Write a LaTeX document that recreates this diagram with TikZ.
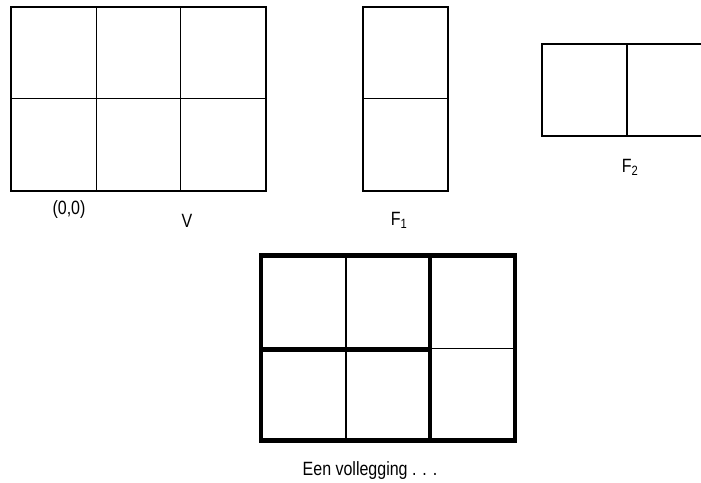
\documentclass[tikz,border=0pt]{standalone}
\usepackage{fontspec}
\setmainfont{Liberation Sans}
\tikzset{
  gridline/.style={line width=1.35pt, black},
  frame/.style={line width=2pt, black},
  heavy/.style={line width=4.4pt, black},
  lbl/.style={anchor=base, inner sep=0pt, font=\fontsize{16}{16}\selectfont},
}
\newcommand{\tall}[1]{\scalebox{1}[1.2]{#1}}
\begin{document}
\begin{tikzpicture}[x=1pt, y=-1pt]
  \useasboundingbox (0,0) rectangle (701,482);
  \clip (0,0) rectangle (701,482);

  % the 3x2 grid V
  \draw[gridline] (96.5,7) -- (96.5,190.5);
  \draw[gridline] (180.5,7) -- (180.5,190.5);
  \draw[gridline] (11,98.5) -- (265.5,98.5);
  \draw[frame] (11,7) rectangle (265.5,190.5);
  \node[lbl] (origin) at (69,214) {\tall{(0,0)}};
  \node[lbl] (labV) at (187,227) {\tall{V}};

  % the vertical domino F1
  \draw[gridline] (362.5,98.5) -- (447.5,98.5);
  \draw[frame] (362.5,6.5) rectangle (447.5,190.5);
  \node[lbl] (labF1) at (399,225) {\tall{F\textsubscript{1}}};

  % the horizontal domino F2, running past the right edge
  \draw[gridline] (627,43.7) -- (627,136.3);
  \draw[frame] (541.7,43.7) rectangle (712.5,136.3);
  \node[lbl] (labF2) at (630,172) {\tall{F\textsubscript{2}}};

  % a tiling of V by copies of F1 and F2
  \draw[gridline] (346,255.5) -- (346,440.5);
  \draw[gridline] (429.7,348.7) -- (515,348.7);
  \draw[heavy] (261,349.5) -- (429.7,349.5);
  \draw[heavy] (429.7,255.5) -- (429.7,440.5);
  \draw[heavy] (261,255.5) rectangle (515,440.5);
  \node[lbl] (labTiling) at (370,475) {\tall{Een vollegging . . .}};
\end{tikzpicture}
\end{document}
